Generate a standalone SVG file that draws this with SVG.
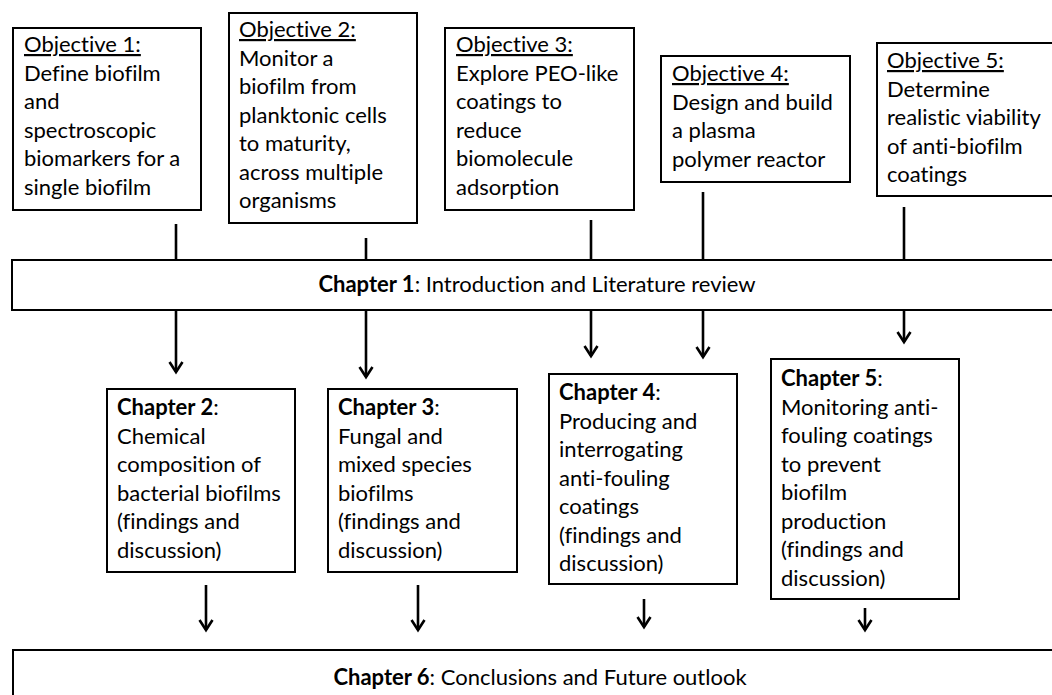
<svg xmlns="http://www.w3.org/2000/svg" width="1052" height="695" viewBox="0 0 1052 695">
<style>
.box{fill:#fff;stroke:#000;stroke-width:2}
.t{font-family:Lato,"Liberation Sans",sans-serif;font-size:22px;fill:#000;font-variant-ligatures:none}
.u{text-decoration:underline}
.b{font-weight:bold}
.c{text-anchor:middle}
.ln{stroke:#000;stroke-width:2.6;fill:none}
</style>
<defs>
<marker id="ah" markerUnits="userSpaceOnUse" orient="auto" refX="0" refY="0" overflow="visible">
<path d="M-10,-6.5 L0,0 L-10,6.5" fill="none" stroke="#000" stroke-width="2.6"/>
</marker>
</defs>
<rect width="1052" height="695" fill="#fff"/>
<g id="connectors">
<line class="ln" x1="176" y1="224" x2="176" y2="260"/>
<line class="ln" x1="366" y1="238" x2="366" y2="260"/>
<line class="ln" x1="591" y1="220" x2="591" y2="260"/>
<line class="ln" x1="703" y1="192" x2="703" y2="260"/>
<line class="ln" x1="904" y1="207" x2="904" y2="260"/>
<line class="ln" x1="176" y1="310" x2="176" y2="372" marker-end="url(#ah)"/>
<line class="ln" x1="366" y1="310" x2="366" y2="377" marker-end="url(#ah)"/>
<line class="ln" x1="591" y1="310" x2="591" y2="356" marker-end="url(#ah)"/>
<line class="ln" x1="703" y1="310" x2="703" y2="357" marker-end="url(#ah)"/>
<line class="ln" x1="904" y1="310" x2="904" y2="342" marker-end="url(#ah)"/>
<line class="ln" x1="206" y1="585" x2="206" y2="630" marker-end="url(#ah)"/>
<line class="ln" x1="418" y1="585" x2="418" y2="630" marker-end="url(#ah)"/>
<line class="ln" x1="644" y1="599" x2="644" y2="627" marker-end="url(#ah)"/>
<line class="ln" x1="865" y1="608" x2="865" y2="630" marker-end="url(#ah)"/>
</g>
<g id="obj1">
<rect class="box" x="13" y="28" width="188" height="182"/>
<text class="t" x="24" y="52"><tspan class="u">Objective 1:</tspan><tspan x="24" dy="28.5">Define biofilm</tspan><tspan x="24" dy="28.5">and</tspan><tspan x="24" dy="28.5">spectroscopic</tspan><tspan x="24" dy="28.5">biomarkers for a</tspan><tspan x="24" dy="28.5">single biofilm</tspan></text>
</g>
<g id="obj2">
<rect class="box" x="229" y="13" width="188" height="210"/>
<text class="t" x="239" y="37"><tspan class="u">Objective 2:</tspan><tspan x="239" dy="28.5">Monitor a</tspan><tspan x="239" dy="28.5">biofilm from</tspan><tspan x="239" dy="28.5">planktonic cells</tspan><tspan x="239" dy="28.5">to maturity,</tspan><tspan x="239" dy="28.5">across multiple</tspan><tspan x="239" dy="28.5">organisms</tspan></text>
</g>
<g id="obj3">
<rect class="box" x="445" y="28" width="189" height="182"/>
<text class="t" x="456" y="52"><tspan class="u">Objective 3:</tspan><tspan x="456" dy="28.5">Explore PEO-like</tspan><tspan x="456" dy="28.5">coatings to</tspan><tspan x="456" dy="28.5">reduce</tspan><tspan x="456" dy="28.5">biomolecule</tspan><tspan x="456" dy="28.5">adsorption</tspan></text>
</g>
<g id="obj4">
<rect class="box" x="661" y="56" width="189" height="126"/>
<text class="t" x="672" y="81"><tspan class="u">Objective 4:</tspan><tspan x="672" dy="28.5">Design and build</tspan><tspan x="672" dy="28.5">a plasma</tspan><tspan x="672" dy="28.5">polymer reactor</tspan></text>
</g>
<g id="obj5">
<rect class="box" x="877" y="43" width="189" height="153"/>
<text class="t" x="887" y="68"><tspan class="u">Objective 5:</tspan><tspan x="887" dy="28.5">Determine</tspan><tspan x="887" dy="28.5">realistic viability</tspan><tspan x="887" dy="28.5">of anti-biofilm</tspan><tspan x="887" dy="28.5">coatings</tspan></text>
</g>
<g id="ch1">
<rect class="box" x="12" y="260" width="1050" height="50"/>
<text class="t c" x="537" y="292"><tspan class="b">Chapter 1</tspan>: Introduction and Literature review</text>
</g>
<g id="ch2">
<rect class="box" x="107" y="389" width="188" height="183"/>
<text class="t" x="117" y="415"><tspan class="b">Chapter 2</tspan>:<tspan x="117" dy="28.5">Chemical</tspan><tspan x="117" dy="28.5">composition of</tspan><tspan x="117" dy="28.5">bacterial biofilms</tspan><tspan x="117" dy="28.5">(findings and</tspan><tspan x="117" dy="28.5">discussion)</tspan></text>
</g>
<g id="ch3">
<rect class="box" x="328" y="389" width="189" height="183"/>
<text class="t" x="338" y="415"><tspan class="b">Chapter 3</tspan>:<tspan x="338" dy="28.5">Fungal and</tspan><tspan x="338" dy="28.5">mixed species</tspan><tspan x="338" dy="28.5">biofilms</tspan><tspan x="338" dy="28.5">(findings and</tspan><tspan x="338" dy="28.5">discussion)</tspan></text>
</g>
<g id="ch4">
<rect class="box" x="549" y="374" width="188" height="210"/>
<text class="t" x="559" y="400"><tspan class="b">Chapter 4</tspan>:<tspan x="559" dy="28.5">Producing and</tspan><tspan x="559" dy="28.5">interrogating</tspan><tspan x="559" dy="28.5">anti-fouling</tspan><tspan x="559" dy="28.5">coatings</tspan><tspan x="559" dy="28.5">(findings and</tspan><tspan x="559" dy="28.5">discussion)</tspan></text>
</g>
<g id="ch5">
<rect class="box" x="771" y="359" width="188" height="240"/>
<text class="t" x="781" y="386"><tspan class="b">Chapter 5</tspan>:<tspan x="781" dy="28.5">Monitoring anti-</tspan><tspan x="781" dy="28.5">fouling coatings</tspan><tspan x="781" dy="28.5">to prevent</tspan><tspan x="781" dy="28.5">biofilm</tspan><tspan x="781" dy="28.5">production</tspan><tspan x="781" dy="28.5">(findings and</tspan><tspan x="781" dy="28.5">discussion)</tspan></text>
</g>
<g id="ch6">
<rect class="box" x="13" y="650" width="1050" height="60"/>
<text class="t c" x="540" y="685"><tspan class="b">Chapter 6</tspan>: Conclusions and Future outlook</text>
</g>
</svg>
